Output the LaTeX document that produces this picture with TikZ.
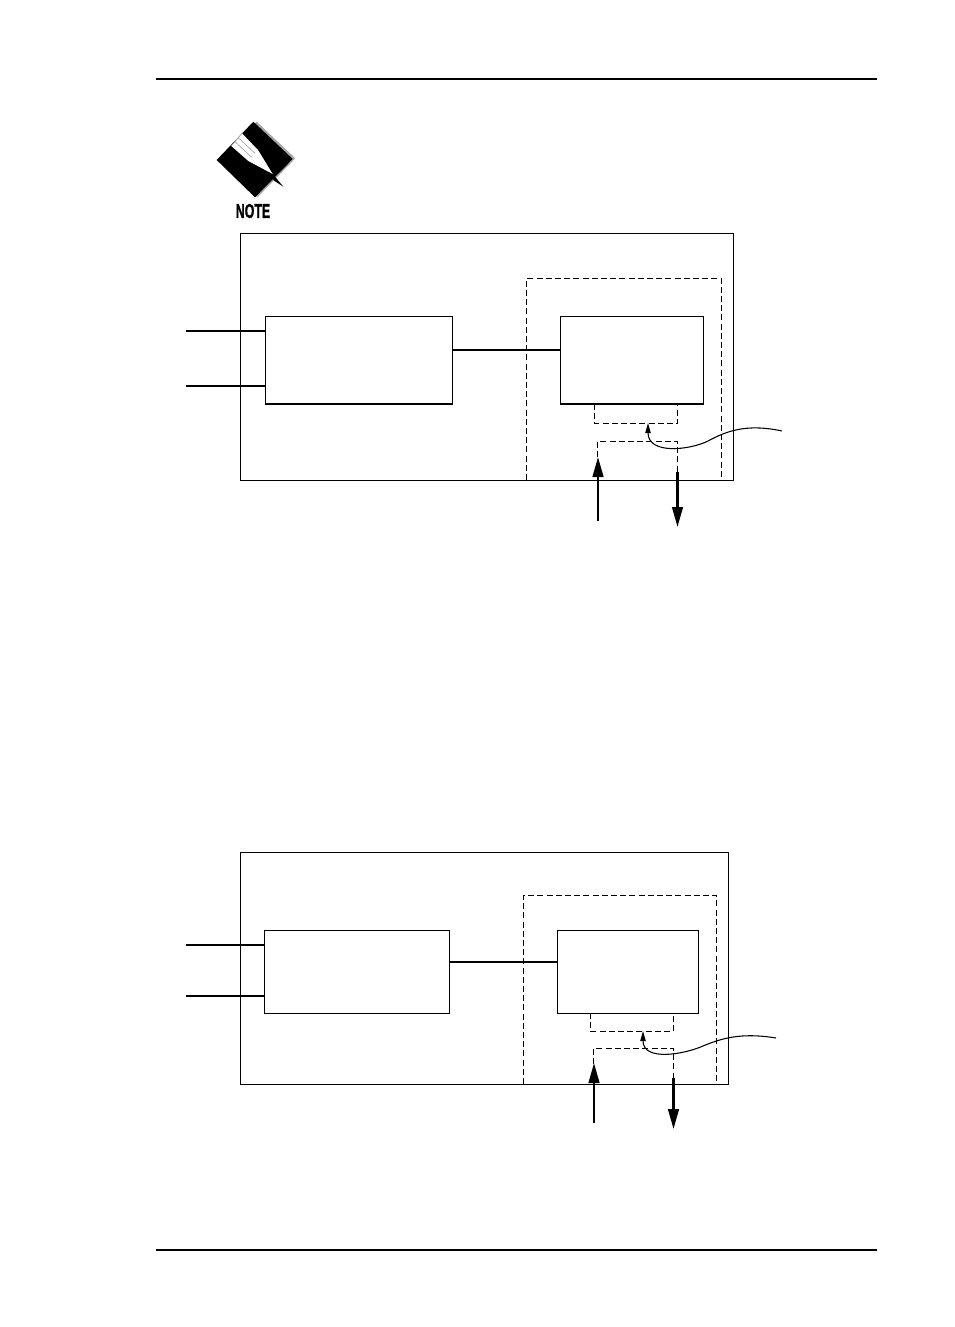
\documentclass[tikz,border=0pt]{standalone}
\usepackage{fontspec}
\setsansfont{Liberation Sans}
\newfontfamily\notefont[BoldFeatures={FakeBold=1.5}]{Liberation Sans}
\usetikzlibrary{arrows.meta}

\begin{document}
\begin{tikzpicture}[x=0.75pt, y=-0.75pt, font=\sffamily, box/.style={rectangle, draw=black, line width=0.75pt, inner sep=0pt}, rulebar/.style={line width=1.5pt}, wire/.style={line width=1.5pt}, dashline/.style={line width=0.75pt, dash pattern=on 4.5pt off 2.4pt}, arrow/.style={-{Triangle[length=15pt, width=8pt]}, line width=1.8pt}, callout/.style={-{Triangle[length=7.5pt, width=4pt]}, line width=0.8pt}]
\useasboundingbox (0,0) rectangle (954,1327);
% page rules
\coordinate (ruleTopL) at (156,79);
\coordinate (ruleTopR) at (877,79);
\coordinate (ruleBotL) at (156,1250);
\coordinate (ruleBotR) at (877,1250);
\draw[rulebar] (ruleTopL) -- (ruleTopR);
\draw[rulebar] (ruleBotL) -- (ruleBotR);
% note icon
\begin{scope}[shift={(200,110)}, x=0.25pt, y=-0.25pt]
\fill[gray!70] (170,35) -- (286,145) -- (172,262) -- (60,150) -- cycle;
\fill[black] (160,35) -- (278,147) -- (165,262) -- (50,150) -- cycle;
\fill[white] (94,108) -- (126,70) -- (174,120) -- (218,192) -- (145,153) -- cycle;
\draw[gray!70, line width=0.5pt] (94,108) -- (126,70);
\draw[gray!70, line width=0.5pt] (106,96) -- (155,142);
\draw[gray!70, line width=0.5pt] (116,84) -- (165,130);
\fill[black] (205,185) -- (225,200) -- (250,230) -- (222,212) -- cycle;
\end{scope}
\node[inner sep=0pt] (noteLabel) at (253,211) {\notefont\bfseries\fontsize{15pt}{16pt}\selectfont\scalebox{.62}[1]{NOTE}};
% upper diagram
\node[box, minimum width=369.75pt, minimum height=185.25pt] (outerA) at (487,357) {};
\node[box, minimum width=140.25pt, minimum height=65.6pt] (leftA) at (359,360.25) {};
\node[box, minimum width=107.25pt, minimum height=65.6pt] (rightA) at (632,360.25) {};
\coordinate (inA1) at (186,331);
\coordinate (inA2) at (186,386);
\coordinate (midA) at (452,350);
\draw[wire] (inA1) -- (inA1 -| leftA.west);
\draw[wire] (inA2) -- (inA2 -| leftA.west);
\draw[wire] (midA) -- (midA -| rightA.west);
\draw[wire] (leftA.south west) -- (leftA.south east);
\draw[wire] (rightA.south west) -- (rightA.south east);
\draw[dashline] (526.5,480) -- (526.5,278.5) -- (721.5,278.5) -- (721.5,480);
\draw[dashline] (594.5,404) -- (594.5,423.5) -- (677.5,423.5) -- (677.5,404);
\draw[dashline] (597.5,457) -- (597.5,441.5) -- (677.5,441.5) -- (677.5,472);
\coordinate (upFootA) at (598,521);
\coordinate (upTipA) at (598,457);
\coordinate (downFootA) at (677.5,472);
\coordinate (downTipA) at (677.5,527);
\draw[arrow] (upFootA) -- (upTipA);
\draw[arrow] (downFootA) -- (downTipA);
\coordinate (tailA) at (782,431);
\coordinate (tipA) at (648,423);
\draw[callout] (tailA) .. controls (745,423) and (725,432) .. (708,441) .. controls (690,450) and (648,455) .. (tipA);
% lower diagram
\node[box, minimum width=366pt, minimum height=174pt] (outerB) at (484.5,968.5) {};
\node[box, minimum width=138.75pt, minimum height=62.25pt] (leftB) at (357,972) {};
\node[box, minimum width=105.75pt, minimum height=62.25pt] (rightB) at (628,972) {};
\coordinate (inB1) at (186,945);
\coordinate (inB2) at (186,996);
\coordinate (midB) at (449,962);
\draw[wire] (inB1) -- (inB1 -| leftB.west);
\draw[wire] (inB2) -- (inB2 -| leftB.west);
\draw[wire] (midB) -- (midB -| rightB.west);
\draw[dashline] (523.5,1084) -- (523.5,895.5) -- (716.5,895.5) -- (716.5,1084);
\draw[dashline] (590.5,1013) -- (590.5,1031.5) -- (673,1031.5) -- (673,1013);
\draw[dashline] (593.5,1064) -- (593.5,1048.5) -- (673.5,1048.5) -- (673.5,1078);
\coordinate (upFootB) at (594,1123);
\coordinate (upTipB) at (594,1063);
\coordinate (downFootB) at (673.5,1078);
\coordinate (downTipB) at (673.5,1129);
\draw[arrow] (upFootB) -- (upTipB);
\draw[arrow] (downFootB) -- (downTipB);
\coordinate (tailB) at (776,1038);
\coordinate (tipB) at (643,1031);
\draw[callout] (tailB) .. controls (740,1032) and (720,1039) .. (703,1046) .. controls (685,1054) and (643,1062) .. (tipB);
\end{tikzpicture}
\end{document}
